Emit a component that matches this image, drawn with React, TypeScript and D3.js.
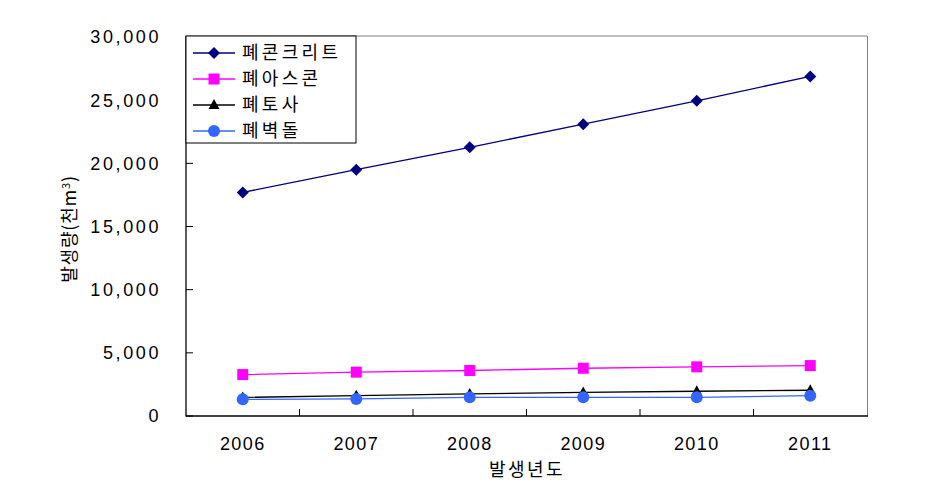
import React from "react";
import * as d3 from "d3";

const years = ["2006", "2007", "2008", "2009", "2010", "2011"];
const concrete = [17700, 19500, 21270, 23100, 24950, 26880];
const ascon = [3280, 3470, 3600, 3780, 3890, 3990];
const soil = [1470, 1610, 1750, 1870, 1960, 2040];
const brick = [1320, 1350, 1480, 1480, 1480, 1610];
const yTicks = [0, 5000, 10000, 15000, 20000, 25000, 30000];

const seriesNames = ["폐콘크리트", "폐아스콘", "폐토사", "폐벽돌"];
const seriesColors = ["#000080", "#FF00FF", "#000000", "#3366FF"];
const seriesMarkers = ["diamond", "square", "triangle", "circle"];

const W = 930;
const H = 488;
const L = 186, R = 867, T = 37, B = 416;
const FONT = "'Liberation Sans', 'Noto Sans CJK KR', sans-serif";
const KFONT = "'Noto Sans CJK KR', sans-serif";

function Marker({ type, x, y, color }: { type: string; x: number; y: number; color: string }) {
  if (type === "diamond") {
    const s = 6;
    return <path d={`M${x},${y - s}L${x + s},${y}L${x},${y + s}L${x - s},${y}Z`} fill={color} />;
  }
  if (type === "square") {
    return <rect x={x - 5.5} y={y - 5.5} width={11} height={11} fill={color} />;
  }
  if (type === "triangle") {
    return <path d={`M${x},${y - 6}L${x + 5.5},${y + 4}L${x - 5.5},${y + 4}Z`} fill={color} />;
  }
  return <circle cx={x} cy={y} r={6} fill={color} />;
}

export default function App() {
  const x = d3.scaleBand<string>().domain(years).range([L, R]).padding(0);
  const y = d3.scaleLinear().domain([0, 30000]).range([B, T]);
  const data = [concrete, ascon, soil, brick];
  const line = d3
    .line<number>()
    .x((_, i) => (x(years[i]) as number) + x.bandwidth() / 2)
    .y((d) => y(d));
  const fmt = d3.format(",");
  const boundaries = years.slice(1).map((yr) => x(yr) as number);

  return (
    <svg width={W} height={H} style={{ position: "absolute", left: 0, top: 0, background: "#fff" }}>
      <rect x={0} y={0} width={W} height={H} fill="#fff" />
      {/* plot border */}
      <line x1={L} y1={T - 1} x2={R} y2={T - 1} stroke="#808080" strokeWidth={1} />
      <line x1={R + 0.5} y1={T - 1} x2={R + 0.5} y2={B} stroke="#808080" strokeWidth={1} />
      {/* axes */}
      <line x1={L} y1={T - 1} x2={L} y2={B + 0.5} stroke="#000" strokeWidth={1.3} />
      <line x1={L} y1={B} x2={R + 1} y2={B} stroke="#000" strokeWidth={1.3} />
      {yTicks.map((t) => (
        <g key={t}>
          <line x1={L} x2={L + 7} y1={y(t)} y2={y(t)} stroke="#000" strokeWidth={1} />
          <text
            x={161}
            y={y(t)}
            dy="0.36em"
            textAnchor="end"
            fontFamily={FONT}
            fontSize={18}
            letterSpacing={2.6}
          >
            {fmt(t)}
          </text>
        </g>
      ))}
      {boundaries.map((bx, i) => (
        <line key={i} x1={bx} x2={bx} y1={B} y2={B - 7} stroke="#000" strokeWidth={1} />
      ))}
      {years.map((yr) => (
        <text
          key={yr}
          x={(x(yr) as number) + x.bandwidth() / 2}
          y={444}
          dy="0.36em"
          textAnchor="middle"
          fontFamily={FONT}
          fontSize={18}
          letterSpacing={1.4}
        >
          {yr}
        </text>
      ))}
      <text x={527} y={470} dy="0.36em" textAnchor="middle" fontFamily={KFONT} fontSize={18} letterSpacing={2.5}>
        발생년도
      </text>
      <text
        transform={`translate(70,${229}) rotate(-90)`}
        textAnchor="middle"
        dy="0.36em"
        fontFamily={KFONT}
        fontSize={18}
        letterSpacing={0.8}
      >
        발생량(천m<tspan dy="-6" fontSize={11}>3</tspan>
        <tspan dy="6">)</tspan>
      </text>
      {/* series */}
      {data.map((vals, si) => (
        <g key={si}>
          <path d={line(vals) || ""} fill="none" stroke={seriesColors[si]} strokeWidth={1.3} />
          {vals.map((v, i) => (
            <Marker
              key={i}
              type={seriesMarkers[si]}
              x={(x(years[i]) as number) + x.bandwidth() / 2}
              y={y(v)}
              color={seriesColors[si]}
            />
          ))}
        </g>
      ))}
      {/* legend */}
      <rect x={L} y={T - 1} width={170} height={107} fill="#fff" stroke="#000" strokeWidth={1} />
      {seriesNames.map((n, i) => {
        const ly = 53 + i * 26;
        return (
          <g key={n}>
            <line x1={193} x2={235} y1={ly} y2={ly} stroke={seriesColors[i]} strokeWidth={1.3} />
            <Marker type={seriesMarkers[i]} x={214} y={ly} color={seriesColors[i]} />
            <text x={242} y={ly} dy="0.36em" fontFamily={KFONT} fontSize={18} letterSpacing={3.3}>
              {n}
            </text>
          </g>
        );
      })}
    </svg>
  );
}
